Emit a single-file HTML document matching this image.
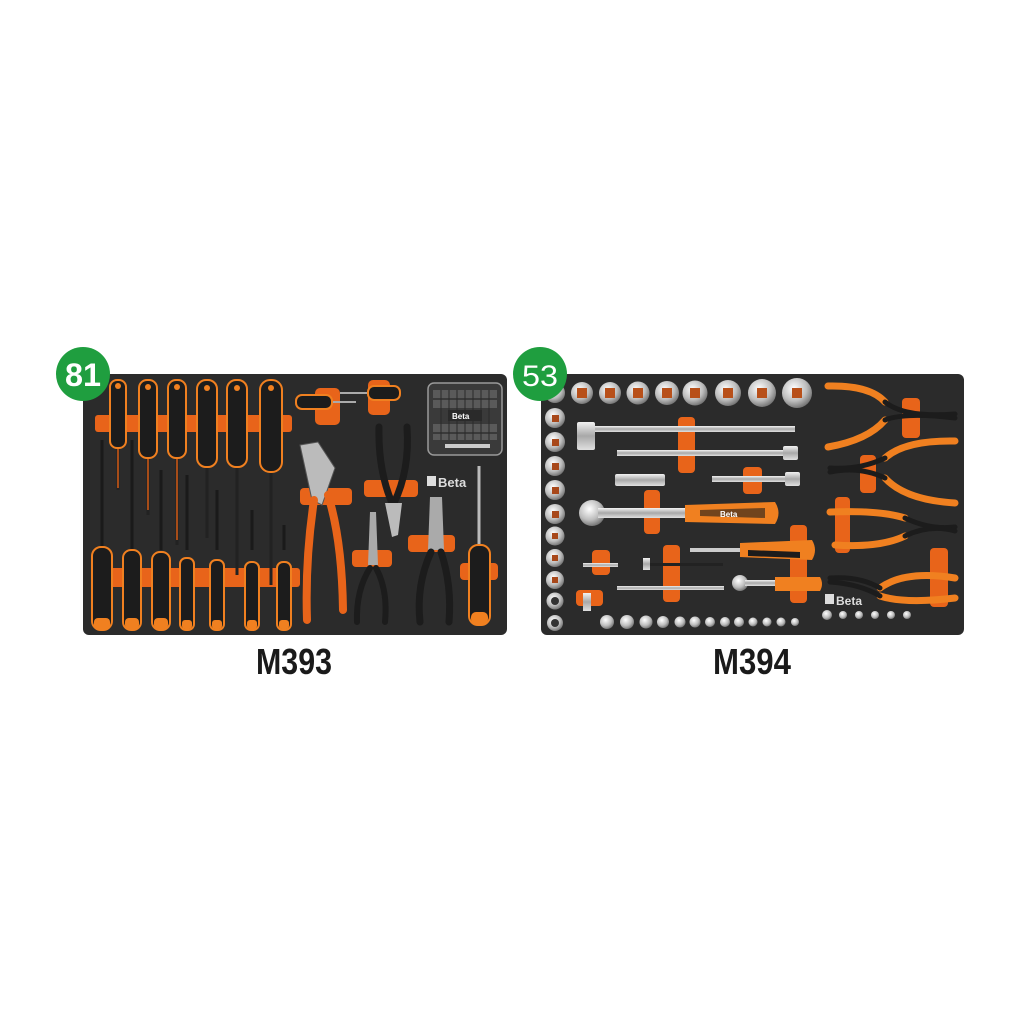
<!DOCTYPE html>
<html><head><meta charset="utf-8"><style>
html,body{margin:0;padding:0;background:#fff}
svg{display:block}
text{font-family:"Liberation Sans",sans-serif}
</style></head><body>
<svg width="1024" height="1024" viewBox="0 0 1024 1024" xmlns="http://www.w3.org/2000/svg">
<defs>
<linearGradient id="sil" x1="0" y1="0" x2="0" y2="1"><stop offset="0" stop-color="#f2f2f2"/><stop offset=".5" stop-color="#a8a8a8"/><stop offset="1" stop-color="#e0e0e0"/></linearGradient>
<radialGradient id="sock" cx=".4" cy=".35" r=".7"><stop offset="0" stop-color="#ffffff"/><stop offset=".6" stop-color="#bdbdbd"/><stop offset="1" stop-color="#6a6a6a"/></radialGradient>
</defs>
<rect width="1024" height="1024" fill="#fff"/>

<!-- LEFT TRAY -->
<rect x="83" y="374" width="424" height="261" rx="6" fill="#2b2b2b"/>
<rect x="95" y="415" width="197" height="17" rx="3" fill="#e8641a"/>
<rect x="110" y="568" width="190" height="19" rx="3" fill="#e8641a"/>
<g stroke="#222" stroke-width="3">
<line x1="118" y1="440" x2="118" y2="490"/><line x1="148" y1="450" x2="148" y2="515"/>
<line x1="177" y1="450" x2="177" y2="545"/><line x1="207" y1="460" x2="207" y2="538"/>
<line x1="237" y1="460" x2="237" y2="575"/><line x1="271" y1="465" x2="271" y2="585"/>
</g>
<g stroke="#d25a14" stroke-width="1.5">
<line x1="118" y1="448" x2="118" y2="488"/><line x1="148" y1="458" x2="148" y2="510"/><line x1="177" y1="458" x2="177" y2="540"/>
</g>
<g fill="#1c1c1c" stroke="#f08020" stroke-width="2">
<rect x="110" y="380" width="16" height="68" rx="7"/>
<rect x="139" y="380" width="18" height="78" rx="8"/>
<rect x="168" y="380" width="18" height="78" rx="8"/>
<rect x="197" y="380" width="20" height="87" rx="9"/>
<rect x="227" y="380" width="20" height="87" rx="9"/>
<rect x="260" y="380" width="22" height="92" rx="10"/>
</g>
<g fill="#f08020">
<circle cx="118" cy="386" r="3"/><circle cx="148" cy="387" r="3"/><circle cx="177" cy="387" r="3"/><circle cx="207" cy="388" r="3"/><circle cx="237" cy="388" r="3"/><circle cx="271" cy="388" r="3"/>
</g>
<g stroke="#1a1a1a" stroke-width="3">
<line x1="102" y1="440" x2="102" y2="550"/><line x1="132" y1="440" x2="132" y2="550"/>
<line x1="161" y1="470" x2="161" y2="550"/><line x1="187" y1="475" x2="187" y2="550"/>
<line x1="217" y1="490" x2="217" y2="550"/><line x1="252" y1="510" x2="252" y2="550"/><line x1="284" y1="525" x2="284" y2="550"/>
</g>
<g fill="#1c1c1c" stroke="#f08020" stroke-width="2">
<rect x="92" y="547" width="20" height="83" rx="9"/>
<rect x="123" y="550" width="18" height="80" rx="8"/>
<rect x="152" y="552" width="18" height="78" rx="8"/>
<rect x="180" y="558" width="14" height="72" rx="6"/>
<rect x="210" y="560" width="14" height="70" rx="6"/>
<rect x="245" y="562" width="14" height="68" rx="6"/>
<rect x="277" y="562" width="14" height="68" rx="6"/>
</g>
<g fill="#f08020">
<rect x="94" y="618" width="16" height="11" rx="4"/><rect x="125" y="618" width="14" height="11" rx="4"/><rect x="154" y="618" width="14" height="11" rx="4"/><rect x="182" y="620" width="10" height="9" rx="3"/><rect x="212" y="620" width="10" height="9" rx="3"/><rect x="247" y="620" width="10" height="9" rx="3"/><rect x="279" y="620" width="10" height="9" rx="3"/>
</g>
<rect x="315" y="388" width="25" height="37" rx="5" fill="#e8641a"/>
<rect x="368" y="380" width="22" height="35" rx="5" fill="#e8641a"/>
<line x1="330" y1="402" x2="356" y2="402" stroke="#aaa" stroke-width="2"/>
<rect x="296" y="395" width="36" height="14" rx="6" fill="#1c1c1c" stroke="#f08020" stroke-width="2"/>
<line x1="340" y1="393" x2="370" y2="393" stroke="#aaa" stroke-width="2"/>
<rect x="368" y="386" width="32" height="14" rx="6" fill="#1c1c1c" stroke="#f08020" stroke-width="2"/>
<!-- bit box -->
<rect x="428" y="383" width="74" height="72" rx="6" fill="#3a3a3a" stroke="#999" stroke-width="1.5"/>
<g fill="#5a5a5a">
<rect x="433" y="390" width="64" height="8"/><rect x="433" y="400" width="64" height="8"/><rect x="433" y="424" width="64" height="8"/><rect x="433" y="434" width="64" height="6"/>
</g>
<g stroke="#2a2a2a" stroke-width="1">
<line x1="441" y1="390" x2="441" y2="440"/><line x1="449" y1="390" x2="449" y2="440"/><line x1="457" y1="390" x2="457" y2="440"/><line x1="465" y1="390" x2="465" y2="440"/><line x1="473" y1="390" x2="473" y2="440"/><line x1="481" y1="390" x2="481" y2="440"/><line x1="489" y1="390" x2="489" y2="440"/>
</g>
<rect x="445" y="444" width="45" height="4" fill="#ccc"/>
<rect x="448" y="410" width="34" height="11" fill="#2a2a2a"/>
<text x="452" y="419" font-size="8" font-weight="bold" fill="#fff">Beta</text>
<rect x="427" y="476" width="9" height="10" fill="#ddd"/>
<text x="438" y="487" font-size="13" font-weight="bold" fill="#ddd">Beta</text>
<rect x="300" y="488" width="52" height="17" rx="4" fill="#e8641a"/>
<rect x="364" y="480" width="54" height="17" rx="4" fill="#e8641a"/>
<rect x="352" y="550" width="40" height="17" rx="4" fill="#e8641a"/>
<rect x="408" y="535" width="47" height="17" rx="4" fill="#e8641a"/>
<rect x="460" y="563" width="38" height="17" rx="4" fill="#e8641a"/>
<path d="M300 445 L318 442 L335 468 L322 505 L312 500 Z" fill="#bbb" stroke="#555"/>
<path d="M314 500 Q305 560 307 620" stroke="#e8641a" stroke-width="8" fill="none" stroke-linecap="round"/>
<path d="M328 495 Q342 540 343 610" stroke="#e8641a" stroke-width="8" fill="none" stroke-linecap="round"/>
<path d="M379 427 Q378 470 392 503" stroke="#1c1c1c" stroke-width="7" fill="none" stroke-linecap="round"/>
<path d="M407 427 Q410 470 394 503" stroke="#1c1c1c" stroke-width="7" fill="none" stroke-linecap="round"/>
<path d="M385 503 L402 503 L398 535 L392 537 Z" fill="#bbb"/>
<path d="M370 512 L376 512 L378 565 L368 565 Z" fill="#aaa"/>
<path d="M370 568 Q356 590 357 622" stroke="#1c1c1c" stroke-width="6" fill="none" stroke-linecap="round"/>
<path d="M376 568 Q388 590 385 622" stroke="#1c1c1c" stroke-width="6" fill="none" stroke-linecap="round"/>
<path d="M430 497 L442 497 L444 550 L428 550 Z" fill="#aaa"/>
<path d="M431 552 Q416 585 420 622" stroke="#1c1c1c" stroke-width="7" fill="none" stroke-linecap="round"/>
<path d="M441 552 Q452 585 449 622" stroke="#1c1c1c" stroke-width="7" fill="none" stroke-linecap="round"/>
<line x1="479" y1="466" x2="479" y2="545" stroke="#bbb" stroke-width="3"/>
<rect x="469" y="545" width="21" height="80" rx="9" fill="#1c1c1c" stroke="#f08020" stroke-width="2"/>
<rect x="471" y="612" width="17" height="12" rx="5" fill="#f08020"/>

<circle cx="83" cy="374" r="27" fill="#1f9e3f"/>
<text x="83" y="386" font-size="32" font-weight="bold" fill="#fff" text-anchor="middle" textLength="36" lengthAdjust="spacingAndGlyphs">81</text>

<!-- RIGHT TRAY -->
<rect x="541" y="374" width="423" height="261" rx="6" fill="#2b2b2b"/>
<g fill="url(#sock)">
<circle cx="582" cy="393" r="11"/><circle cx="610" cy="393" r="11"/><circle cx="638" cy="393" r="11.5"/><circle cx="667" cy="393" r="12"/><circle cx="695" cy="393" r="12.5"/><circle cx="728" cy="393" r="13"/><circle cx="762" cy="393" r="14"/><circle cx="797" cy="393" r="15"/>
</g>
<g fill="#b8501a">
<rect x="577" y="388" width="10" height="10"/><rect x="605" y="388" width="10" height="10"/><rect x="633" y="388" width="10" height="10"/><rect x="662" y="388" width="10" height="10"/><rect x="690" y="388" width="10" height="10"/><rect x="723" y="388" width="10" height="10"/><rect x="757" y="388" width="10" height="10"/><rect x="792" y="388" width="10" height="10"/>
</g>
<g fill="url(#sock)">
<circle cx="555" cy="393" r="10"/><circle cx="555" cy="418" r="10"/><circle cx="555" cy="442" r="10"/><circle cx="555" cy="466" r="10"/><circle cx="555" cy="490" r="10"/><circle cx="555" cy="514" r="10"/><circle cx="555" cy="536" r="9.5"/><circle cx="555" cy="558" r="9"/><circle cx="555" cy="580" r="9"/><circle cx="555" cy="601" r="8.5"/><circle cx="555" cy="623" r="8"/>
</g>
<g fill="#a8481a">
<rect x="552" y="415" width="7" height="7"/><rect x="552" y="439" width="7" height="7"/><rect x="552" y="463" width="7" height="7"/><rect x="552" y="487" width="7" height="7"/><rect x="552" y="511" width="7" height="7"/><rect x="552" y="533" width="6" height="6"/><rect x="552" y="555" width="6" height="6"/><rect x="552" y="577" width="6" height="6"/>
</g>
<g fill="#333"><circle cx="555" cy="601" r="4"/><circle cx="555" cy="623" r="4"/></g>
<g fill="url(#sock)">
<circle cx="607" cy="622" r="7"/><circle cx="627" cy="622" r="7"/><circle cx="646" cy="622" r="6.5"/><circle cx="663" cy="622" r="6"/><circle cx="680" cy="622" r="5.5"/><circle cx="695" cy="622" r="5.5"/><circle cx="710" cy="622" r="5"/><circle cx="725" cy="622" r="5"/><circle cx="739" cy="622" r="5"/><circle cx="753" cy="622" r="4.5"/><circle cx="767" cy="622" r="4.5"/><circle cx="781" cy="622" r="4.5"/><circle cx="795" cy="622" r="4"/>
<circle cx="827" cy="615" r="5"/><circle cx="843" cy="615" r="4"/><circle cx="859" cy="615" r="4"/><circle cx="875" cy="615" r="4"/><circle cx="891" cy="615" r="4"/><circle cx="907" cy="615" r="4"/>
</g>
<g fill="#e8641a">
<rect x="678" y="417" width="17" height="56" rx="4"/>
<rect x="743" y="467" width="19" height="27" rx="4"/>
<rect x="644" y="490" width="16" height="44" rx="4"/>
<rect x="790" y="525" width="17" height="78" rx="4"/>
<rect x="663" y="545" width="17" height="57" rx="4"/>
<rect x="592" y="550" width="18" height="25" rx="4"/>
<rect x="576" y="590" width="27" height="16" rx="4"/>
</g>
<rect x="577" y="426" width="218" height="6" fill="url(#sil)"/>
<rect x="577" y="422" width="18" height="28" rx="2" fill="url(#sil)"/>
<rect x="617" y="450" width="170" height="6" fill="url(#sil)"/>
<rect x="783" y="446" width="15" height="14" rx="2" fill="url(#sil)"/>
<rect x="712" y="476" width="78" height="6" fill="url(#sil)"/>
<rect x="785" y="472" width="15" height="14" rx="2" fill="url(#sil)"/>
<rect x="615" y="474" width="50" height="12" rx="2" fill="url(#sil)"/>
<circle cx="592" cy="513" r="13" fill="url(#sock)"/>
<rect x="598" y="508" width="90" height="10" fill="url(#sil)"/>
<path d="M685 505 L775 502 Q782 513 775 524 L685 522 Z" fill="#f08020"/>
<path d="M700 510 L765 508 L765 518 L700 516 Z" fill="#1c1c1c" opacity=".6"/>
<text x="720" y="517" font-size="8" font-weight="bold" fill="#fff">Beta</text>
<rect x="690" y="548" width="52" height="4" fill="#ccc"/>
<path d="M740 543 L812 540 Q818 550 812 560 L740 557 Z" fill="#f08020"/>
<path d="M748 550 L800 552 L800 558 L748 556 Z" fill="#1c1c1c"/>
<rect x="583" y="563" width="35" height="4" fill="url(#sil)"/>
<rect x="645" y="563" width="78" height="3" fill="#222"/><rect x="643" y="558" width="7" height="12" fill="url(#sil)"/>
<rect x="617" y="586" width="107" height="4" fill="url(#sil)"/>
<circle cx="740" cy="583" r="8" fill="url(#sock)"/>
<rect x="745" y="580" width="32" height="6" fill="url(#sil)"/>
<path d="M775 577 L820 577 Q824 584 820 591 L775 591 Z" fill="#f08020"/>
<rect x="583" y="593" width="8" height="18" fill="url(#sil)"/>
<g fill="#e8641a">
<rect x="902" y="398" width="18" height="40" rx="4"/>
<rect x="860" y="455" width="16" height="38" rx="4"/>
<rect x="835" y="497" width="15" height="56" rx="4"/>
<rect x="930" y="548" width="18" height="59" rx="4"/>
</g>
<g fill="none" stroke="#f08020" stroke-width="7" stroke-linecap="round">
<path d="M828 386 Q870 385 885 402"/><path d="M828 447 Q868 440 885 420"/>
<path d="M955 441 Q905 440 885 458"/><path d="M955 503 Q905 500 885 478"/>
<path d="M830 512 Q880 510 905 518"/><path d="M835 545 Q880 548 905 536"/>
<path d="M955 578 Q905 570 880 588"/><path d="M955 598 Q905 604 880 596"/>
</g>
<g fill="none" stroke="#1c1c1c" stroke-width="5" stroke-linecap="round">
<path d="M885 402 Q905 418 955 414"/><path d="M885 420 Q905 412 955 418"/>
<path d="M885 458 Q860 470 830 468"/><path d="M885 478 Q860 466 830 472"/>
<path d="M905 518 Q930 530 955 527"/><path d="M905 536 Q930 524 955 531"/>
<path d="M880 588 Q860 576 830 578"/><path d="M880 596 Q860 584 830 582"/>
</g>
<rect x="825" y="594" width="9" height="10" fill="#ddd"/>
<text x="836" y="605" font-size="12" font-weight="bold" fill="#ddd">Beta</text>

<circle cx="540" cy="374" r="27" fill="#1f9e3f"/>
<text x="540" y="386" font-size="30" fill="#fff" text-anchor="middle" textLength="36" lengthAdjust="spacingAndGlyphs">53</text>

<text x="256" y="674" font-size="36" font-weight="bold" fill="#1a1a1a" textLength="76" lengthAdjust="spacingAndGlyphs">M393</text>
<text x="713" y="674" font-size="36" font-weight="bold" fill="#1a1a1a" textLength="78" lengthAdjust="spacingAndGlyphs">M394</text>
</svg>
</body></html>
